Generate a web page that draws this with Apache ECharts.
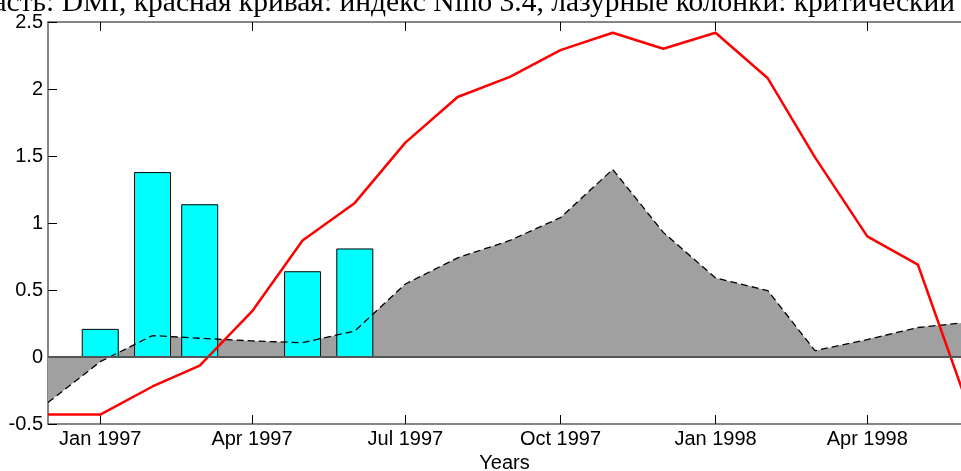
<!DOCTYPE html>
<html>
<head>
<meta charset="utf-8">
<script src="https://cdn.jsdelivr.net/npm/echarts@6/dist/echarts.min.js"></script>
<style>
html,body{margin:0;padding:0;background:#fff;overflow:hidden;}
#chart{width:961px;height:471px;}
</style>
</head>
<body>
<div id="chart"></div>
<script>
// Months (first day of each month)
const months = ['1996-12','1997-01','1997-02','1997-03','1997-04','1997-05','1997-06','1997-07','1997-08','1997-09','1997-10','1997-11','1997-12','1998-01','1998-02','1998-03','1998-04','1998-05','1998-06'];
// Red curve: Nino 3.4 index
const ninoIndex = [-0.43,-0.43,-0.22,-0.065,0.34,0.87,1.15,1.60,1.94,2.09,2.29,2.42,2.30,2.42,2.08,1.49,0.90,0.69,-0.41];
// Gray area with dashed outline: DMI
const dmiValues = [-0.34,-0.035,0.16,0.14,0.12,0.107,0.194,0.545,0.74,0.87,1.04,1.40,0.93,0.59,0.495,0.047,0.13,0.22,0.26];
// Cyan bars
const criticalBars = [null,0.21,1.38,1.14,null,0.64,0.81,null,null,null,null,null,null,null,null,null,null,null,null];
// X tick labels (months)
const xTickMonths = ['1997-01','1997-04','1997-07','1997-10','1998-01','1998-04'];
const monthNames = ['Jan','Feb','Mar','Apr','May','Jun','Jul','Aug','Sep','Oct','Nov','Dec'];
const titleText = 'область: DMI, красная кривая: индекс Nino 3.4, лазурные колонки: критический';

function ts(m){ const p = m.split('-'); return Date.UTC(+p[0], +p[1]-1, 1); }
const xs = months.map(ts);
const tickVals = xTickMonths.map(ts);
const xMin = ts('1996-12');
const xMax = xMin + 541.6 * 86400000;

function pairs(vals){ return vals.map((v,i)=>[xs[i], v]); }

const axisColor = '#5e5e5e';
const labelFont = {fontFamily:'Liberation Sans, Arial, sans-serif', fontSize:20, color:'#000'};

const chart = echarts.init(document.getElementById('chart'), null, {renderer:'canvas'});
chart.setOption({
  animation: false,
  backgroundColor: '#fff',
  grid: {left:48, right:0, top:22, bottom:47, containLabel:false, outerBoundsMode:'none'},
  graphic: [{
    type:'text', right: 6, top: -12, z: 100,
    style:{text:titleText, font:'29.5px "Liberation Serif", "Times New Roman", serif', fill:'#000', textAlign:'right'}
  }],
  xAxis: [{
    type:'value', min:xMin, max:xMax, position:'bottom',
    name:'Years', nameLocation:'middle', nameGap:25,
    nameTextStyle: labelFont,
    axisLine:{show:true, onZero:false, lineStyle:{color:axisColor, width:1.5}},
    axisTick:{show:true, inside:true, length:9, customValues:tickVals, lineStyle:{color:'#000', width:1}},
    axisLabel:{show:true, customValues:tickVals, margin:5, ...labelFont, hideOverlap:false,
      formatter:function(v){ const d=new Date(v); return monthNames[d.getUTCMonth()]+' '+d.getUTCFullYear(); }},
    splitLine:{show:false}, minorTick:{show:false}
  },{
    type:'value', min:xMin, max:xMax, position:'top',
    axisLine:{show:true, onZero:false, lineStyle:{color:axisColor, width:1.5}},
    axisTick:{show:true, inside:true, length:9, customValues:tickVals, lineStyle:{color:'#000', width:1}},
    axisLabel:{show:false}, splitLine:{show:false}
  }],
  yAxis: {
    type:'value', min:-0.5, max:2.5, interval:0.5,
    axisLine:{show:true, onZero:false, lineStyle:{color:axisColor, width:1.5}},
    axisTick:{show:true, inside:true, length:9, lineStyle:{color:'#000', width:1}},
    axisLabel:{margin:5, ...labelFont},
    splitLine:{show:false}
  },
  series: [
    {
      name:'DMI area', type:'line', data:pairs(dmiValues), symbol:'none', z:1,
      lineStyle:{width:0}, areaStyle:{color:'#a0a0a0', opacity:1, origin:0},
      markLine:{silent:true, symbol:'none', label:{show:false}, data:[{yAxis:0}],
        lineStyle:{color:'#555', width:2, type:'solid'}}
    },
    {
      name:'Critical', type:'bar', data:pairs(criticalBars), barWidth:37, z:2,
      itemStyle:{color:'#00ffff', borderColor:'#000', borderWidth:1}
    },
    {
      name:'DMI', type:'line', data:pairs(dmiValues), symbol:'none', z:3,
      lineStyle:{color:'#000', width:1.3, type:[7,4]}
    },
    {
      name:'Nino 3.4', type:'line', data:pairs(ninoIndex), symbol:'none', z:4,
      lineStyle:{color:'#ff0000', width:2.5}
    }
  ]
});
</script>
</body>
</html>
